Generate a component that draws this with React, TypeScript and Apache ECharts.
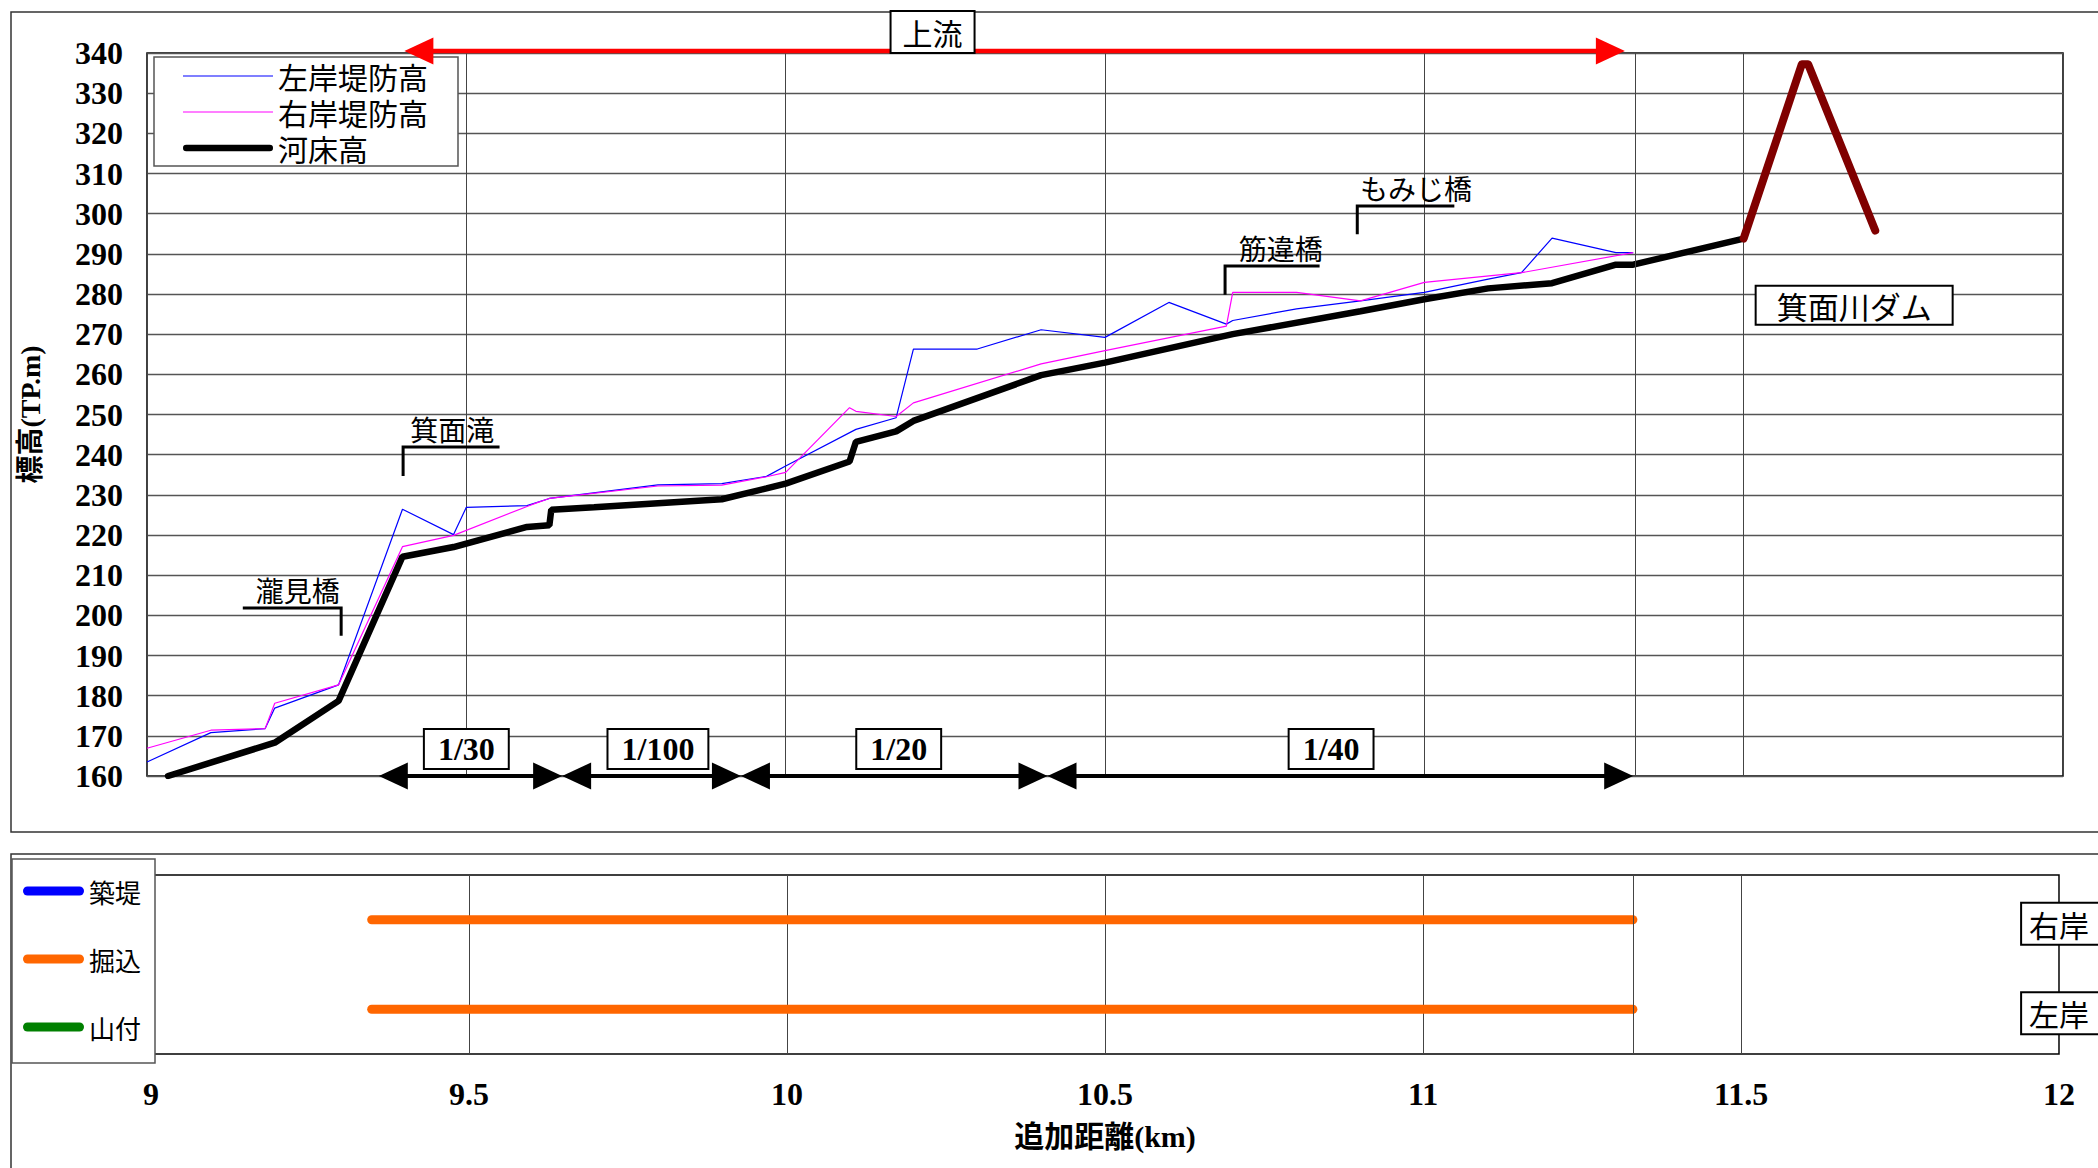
import React, { useEffect, useRef } from 'react';
import * as echarts from 'echarts';

const SERIF = "'Liberation Serif', 'Times New Roman', serif";
const CJK = "'Noto Sans CJK JP', 'Noto Sans', sans-serif";
const MIXED = "'Liberation Serif', 'Noto Sans CJK JP', serif";

// ---------------- data (追加距離 km / 標高 TP.m) ----------------
const leftBankKm = [9.0, 9.1, 9.185, 9.2, 9.3, 9.4, 9.48, 9.5, 9.595, 9.63, 9.8, 9.9, 9.97, 10.0, 10.11, 10.173, 10.2, 10.3, 10.4, 10.5, 10.6, 10.69, 10.7, 10.8, 10.9, 11.0, 11.1, 11.152, 11.2, 11.3, 11.327];
const leftBankElev = [163.5, 170.8, 171.8, 176.9, 182.7, 226.4, 220.1, 226.9, 227.3, 229.1, 232.5, 232.8, 234.6, 237.2, 246.3, 249.2, 266.3, 266.3, 271.1, 269.2, 277.9, 272.5, 273.4, 276.3, 278.3, 280.4, 283.7, 285.3, 293.9, 290.3, 290.3];

const rightBankKm = [9.0, 9.1, 9.185, 9.2, 9.3, 9.4, 9.48, 9.595, 9.61, 9.63, 9.8, 9.9, 9.97, 10.0, 10.1, 10.11, 10.173, 10.2, 10.4, 10.5, 10.69, 10.7, 10.8, 10.9, 11.0, 11.152, 11.327];
const rightBankElev = [166.9, 171.4, 171.8, 178.1, 182.7, 217.1, 219.9, 227.1, 228.0, 229.1, 232.2, 232.4, 234.5, 235.6, 251.7, 250.8, 249.5, 252.9, 262.6, 265.9, 272.0, 280.4, 280.4, 278.3, 282.9, 285.3, 290.3];

const bedKm = [9.033, 9.2, 9.3, 9.4, 9.48, 9.595, 9.63, 9.633, 9.7, 9.9, 9.97, 10.0, 10.1, 10.11, 10.173, 10.2, 10.4, 10.5, 10.7, 10.9, 11.0, 11.1, 11.2, 11.3, 11.327, 11.5];
const bedElev = [160, 168.3, 178.7, 214.6, 217.0, 222.0, 222.4, 226.3, 226.9, 228.9, 231.6, 232.8, 238.3, 243.2, 245.8, 248.4, 259.8, 262.9, 270.0, 275.7, 278.7, 281.4, 282.7, 287.3, 287.3, 293.8];

const damKm = [11.5, 11.591, 11.601, 11.706];
const damElev = [293.8, 337.2, 337.2, 295.8];

const sectionEndKm = 11.327;

// lower panel: 掘込 sections for 右岸 / 左岸
const excavationKm = [9.347, 11.33];
const bankRows = [0.75, 0.25];
const bankRowLabels = ['右岸', '左岸'];
const bankLabelKm = 11.942;

// landmarks
const landmarkNames = ['瀧見橋', '箕面滝', '筋違橋', 'もみじ橋'];
const landmarkStemKm = [9.304, 9.401, 10.688, 10.895];
const landmarkStemBaseElev = [194.9, 234.7, 279.8, 294.9];
const landmarkArmElev = [201.8, 241.9, 287.0, 301.9];
const landmarkArmEndKm = [9.15, 9.552, 10.836, 11.047];
const landmarkTextKm = [9.236, 9.478, 10.775, 10.987];

// bed slope sections
const slopeLabels = ['1/30', '1/100', '1/20', '1/40'];
const slopeStartKm = [9.363, 9.65, 9.93, 10.41];
const slopeEndKm = [9.65, 9.93, 10.41, 11.327];
const slopeLabelKm = [9.5, 9.8, 10.177, 10.854];

// upstream arrow
const upstreamFromKm = 9.403;
const upstreamToKm = 11.314;
const upstreamLabelKm = 10.23;

const damLabel = '箕面川ダム';
const damLabelKm = 11.673;
const damLabelElev = 277.2;

const zip = (xs: number[], ys: number[]) => xs.map((x, i) => [x, ys[i]]);

const thinLineIcon = 'path://M0 0H90V1.2H0Z';
const thickLineIcon = 'path://M3.25 0H86.75A3.25 3.25 0 0 1 86.75 6.5H3.25A3.25 3.25 0 0 1 3.25 0Z';
const barIcon = 'path://M4.5 0H56.5A4.5 4.5 0 0 1 56.5 9H4.5A4.5 4.5 0 0 1 4.5 0Z';

export default function App() {
  const ref = useRef<HTMLDivElement>(null);

  useEffect(() => {
    if (!ref.current) return;
    const chart = echarts.init(ref.current, null, { renderer: 'svg' });

    const sectionMark = {
      silent: true,
      symbol: ['none', 'none'],
      label: { show: false },
      lineStyle: { color: '#444', width: 1, type: 'solid' },
      emphasis: { disabled: true },
      data: [{ xAxis: sectionEndKm }],
    };

    chart.setOption({
      animation: false,
      backgroundColor: '#fff',
      textStyle: { fontFamily: MIXED },
      grid: [
        { left: 147, top: 53, width: 1916, height: 723, show: true, borderColor: '#000', borderWidth: 1.5, backgroundColor: 'rgba(0,0,0,0)' },
        { left: 151, top: 875, width: 1908, height: 179, show: true, borderColor: '#000', borderWidth: 1.5, backgroundColor: 'rgba(0,0,0,0)' },
      ],
      xAxis: [
        {
          type: 'value', gridIndex: 0, min: 9, max: 12, interval: 0.5,
          axisLine: { show: false }, axisTick: { show: false }, axisLabel: { show: false },
          splitLine: { show: true, lineStyle: { color: '#444', width: 1 } },
        },
        {
          type: 'value', gridIndex: 1, min: 9, max: 12, interval: 0.5,
          axisLine: { show: false }, axisTick: { show: false },
          axisLabel: { show: true, fontFamily: SERIF, fontWeight: 'bold', fontSize: 32, color: '#000', margin: 24 },
          splitLine: { show: true, lineStyle: { color: '#444', width: 1 } },
          name: '追加距離(km)', nameLocation: 'middle', nameGap: 67,
          nameTextStyle: { fontFamily: MIXED, fontWeight: 'bold', fontSize: 30, color: '#000' },
        },
      ],
      yAxis: [
        {
          type: 'value', gridIndex: 0, min: 160, max: 340, interval: 10,
          axisLine: { show: false }, axisTick: { show: false },
          axisLabel: { fontFamily: SERIF, fontWeight: 'bold', fontSize: 32, color: '#000', margin: 24 },
          splitLine: { show: true, lineStyle: { color: '#555', width: 1.3 } },
          name: '標高(TP.m)', nameLocation: 'middle', nameRotate: 90, nameGap: 103,
          nameTextStyle: { fontFamily: MIXED, fontWeight: 'bold', fontSize: 28, color: '#000' },
        },
        { type: 'value', gridIndex: 1, min: 0, max: 1, show: false },
      ],
      legend: [
        {
          data: [
            { name: '左岸堤防高', icon: thinLineIcon, itemStyle: { color: '#0000FF', borderWidth: 0 } },
            { name: '右岸堤防高', icon: thinLineIcon, itemStyle: { color: '#FF00FF', borderWidth: 0 } },
            { name: '河床高', icon: thickLineIcon, itemStyle: { color: '#000000', borderWidth: 0 } },
          ],
          orient: 'vertical', left: 154, top: 57, padding: [1, 30, 0, 29],
          itemWidth: 90, itemHeight: 14, itemGap: 0, selectedMode: false,
          backgroundColor: '#fff', borderColor: '#555', borderWidth: 1.5,
          textStyle: { fontFamily: CJK, fontSize: 30, lineHeight: 36, color: '#000' },
        },
        {
          data: [
            { name: '築堤', icon: barIcon, itemStyle: { color: '#0000FF', borderWidth: 0 } },
            { name: '掘込', icon: barIcon, itemStyle: { color: '#FF6600', borderWidth: 0 } },
            { name: '山付', icon: barIcon, itemStyle: { color: '#008000', borderWidth: 0 } },
          ],
          orient: 'vertical', left: 12, top: 859, padding: [19, 14, 23, 11],
          itemWidth: 61, itemHeight: 9, itemGap: 42, selectedMode: false,
          backgroundColor: '#fff', borderColor: '#555', borderWidth: 1.5,
          textStyle: { fontFamily: CJK, fontSize: 26, lineHeight: 26, color: '#000' },
        },
      ],
      series: [
        {
          name: '左岸堤防高', type: 'line', xAxisIndex: 0, yAxisIndex: 0,
          data: zip(leftBankKm, leftBankElev), symbol: 'none',
          lineStyle: { color: '#0000FF', width: 1.2 }, itemStyle: { color: '#0000FF' },
          markLine: sectionMark, z: 3,
        },
        {
          name: '右岸堤防高', type: 'line', xAxisIndex: 0, yAxisIndex: 0,
          data: zip(rightBankKm, rightBankElev), symbol: 'none',
          lineStyle: { color: '#FF00FF', width: 1.2 }, itemStyle: { color: '#FF00FF' }, z: 3,
        },
        {
          name: '河床高', type: 'line', xAxisIndex: 0, yAxisIndex: 0,
          data: zip(bedKm, bedElev), symbol: 'none',
          lineStyle: { color: '#000000', width: 6.5, cap: 'round' }, itemStyle: { color: '#000000' }, z: 4,
        },
        {
          name: '箕面川ダム堤体', type: 'line', xAxisIndex: 0, yAxisIndex: 0,
          data: zip(damKm, damElev), symbol: 'none',
          lineStyle: { color: '#800000', width: 8, cap: 'round', join: 'round' }, itemStyle: { color: '#800000' }, z: 4,
        },
        {
          name: '築堤', type: 'line', xAxisIndex: 1, yAxisIndex: 1, data: [], symbol: 'none',
          lineStyle: { color: '#0000FF', width: 9 }, itemStyle: { color: '#0000FF' },
        },
        {
          name: '掘込', type: 'line', xAxisIndex: 1, yAxisIndex: 1,
          data: excavationKm.map((k) => [k, bankRows[0]]), symbol: 'none',
          lineStyle: { color: '#FF6600', width: 9, cap: 'round' }, itemStyle: { color: '#FF6600' },
          markLine: sectionMark,
        },
        {
          name: '掘込', type: 'line', xAxisIndex: 1, yAxisIndex: 1,
          data: excavationKm.map((k) => [k, bankRows[1]]), symbol: 'none',
          lineStyle: { color: '#FF6600', width: 9, cap: 'round' }, itemStyle: { color: '#FF6600' },
        },
        {
          name: '山付', type: 'line', xAxisIndex: 1, yAxisIndex: 1, data: [], symbol: 'none',
          lineStyle: { color: '#008000', width: 9 }, itemStyle: { color: '#008000' },
        },
      ],
    });

    const p0 = (x: number, y: number) => chart.convertToPixel({ gridIndex: 0 }, [x, y]) as number[];
    const p1 = (x: number, y: number) => chart.convertToPixel({ gridIndex: 1 }, [x, y]) as number[];

    const els: any[] = [];
    const head = (tipX: number, y: number, dir: number, color: string, len = 29, half = 13.5) => ({
      type: 'polygon', z: 101, silent: true,
      shape: { points: [[tipX, y], [tipX - dir * len, y - half], [tipX - dir * len, y + half]] },
      style: { fill: color },
    });
    const boxText = (x: number, y: number, text: string, font: string, size: number, weight: string, padding: number[], align = 'center') => ({
      type: 'text', x, y, z: 110, silent: true,
      style: {
        text, fontFamily: font, fontSize: size, fontWeight: weight, fill: '#000',
        align, verticalAlign: 'middle', backgroundColor: '#fff', borderColor: '#000', borderWidth: 2, padding,
      },
    });

    // outer frames
    els.push({ type: 'rect', z: 0, silent: true, shape: { x: 11, y: 12, width: 2100, height: 820 }, style: { fill: 'none', stroke: '#333', lineWidth: 1.5 } });
    els.push({ type: 'rect', z: 0, silent: true, shape: { x: 11, y: 854, width: 2100, height: 400 }, style: { fill: 'none', stroke: '#333', lineWidth: 1.5 } });

    // upstream arrow
    const ua = p0(upstreamFromKm, 340);
    const ub = p0(upstreamToKm, 340);
    const uy = ua[1] - 2;
    els.push({ type: 'line', z: 100, silent: true, shape: { x1: ua[0] + 10, y1: uy, x2: ub[0] - 10, y2: uy }, style: { stroke: '#FF0000', lineWidth: 4.5 } });
    els.push(head(ua[0], uy, -1, '#FF0000'));
    els.push(head(ub[0], uy, 1, '#FF0000'));
    els.push(boxText(p0(upstreamLabelKm, 340)[0], 32, '上流', CJK, 30, 'normal', [5, 11]));

    // landmark brackets
    landmarkNames.forEach((name, i) => {
      const s = p0(landmarkStemKm[i], landmarkStemBaseElev[i]);
      const a = p0(landmarkStemKm[i], landmarkArmElev[i]);
      const e = p0(landmarkArmEndKm[i], landmarkArmElev[i]);
      els.push({
        type: 'polyline', z: 100, silent: true,
        shape: { points: [[e[0], a[1]], [a[0], a[1]], [s[0], s[1]]] },
        style: { stroke: '#000', lineWidth: 3, fill: 'none' },
      });
      els.push({
        type: 'text', z: 100, silent: true,
        x: p0(landmarkTextKm[i], landmarkArmElev[i])[0], y: a[1] - 18,
        style: { text: name, fontFamily: CJK, fontSize: 28, fill: '#000', align: 'center', verticalAlign: 'middle' },
      });
    });

    // slope arrows
    const yb = p0(9, 160)[1];
    slopeLabels.forEach((lab, i) => {
      const xs = p0(slopeStartKm[i], 160)[0];
      const xe = p0(slopeEndKm[i], 160)[0];
      els.push({ type: 'line', z: 100, silent: true, shape: { x1: xs + 10, y1: yb, x2: xe - 10, y2: yb }, style: { stroke: '#000', lineWidth: 4 } });
      els.push(head(xs, yb, -1, '#000'));
      els.push(head(xe, yb, 1, '#000'));
      els.push(boxText(p0(slopeLabelKm[i], 160)[0], yb - 27, lab, SERIF, 32, 'bold', [3, 13]));
    });

    // dam label
    const dl = p0(damLabelKm, damLabelElev);
    els.push(boxText(dl[0], dl[1], damLabel, CJK, 31, 'normal', [3, 20]));

    // bank labels on lower panel
    bankRowLabels.forEach((lab, i) => {
      const q = p1(bankLabelKm, bankRows[i]);
      els.push(boxText(q[0], q[1] + 4, lab, CJK, 30, 'normal', [5, 40, 5, 7], 'left'));
    });

    chart.setOption({ graphic: { elements: els } });

    return () => chart.dispose();
  }, []);

  return (
    <div
      ref={ref}
      style={{ position: 'fixed', left: 0, top: 0, width: 2098, height: 1168, background: '#fff' }}
    />
  );
}
